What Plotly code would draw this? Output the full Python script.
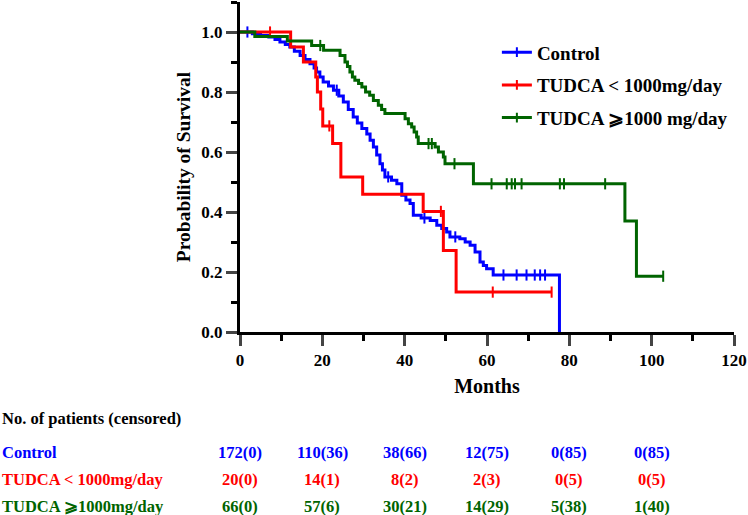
import numpy as np
import plotly.graph_objects as go

# ---------------- data ----------------
months_ticks = [0, 20, 40, 60, 80, 100, 120]

ctrl_t = [0, 3, 5, 7, 8.5, 9.7, 11, 12.1, 13.2, 14.6, 15.8, 17, 18, 18.6, 19.4, 20.2, 21.5, 22.7,
          24, 25.1, 26.3, 27.5, 28.5, 29.6, 30.8, 31.6, 32.4, 33.2, 34, 34.6, 35.2, 36.8, 38.1,
          39.3, 40.3, 41.3, 42.1, 44, 46.2, 47.8, 49, 50.2, 51, 53.4, 54.7, 55.9, 57.1, 58.3,
          59.1, 59.9, 61.5, 77.6]
ctrl_s = [1.0, 0.994, 0.988, 0.983, 0.975, 0.967, 0.958, 0.95, 0.936, 0.922, 0.908, 0.894, 0.88,
          0.867, 0.85, 0.833, 0.82, 0.806, 0.787, 0.767, 0.742, 0.717, 0.697, 0.678, 0.66, 0.639,
          0.617, 0.59, 0.561, 0.54, 0.517, 0.506, 0.494, 0.456, 0.44, 0.428, 0.389, 0.38, 0.372,
          0.356, 0.345, 0.333, 0.317, 0.311, 0.3, 0.289, 0.267, 0.233, 0.222, 0.211, 0.19, 0.0]
ctrl_cens = [1.8, 23.5, 36, 44.8, 52.3, 64, 67.2, 69.6, 71.6, 72.9, 74.1]

low_t = [0, 12.3, 15.4, 18.4, 18.8, 19.6, 20.1, 22.5, 24.5, 29.8, 44.5, 49.4, 52.5, 75.7]
low_s = [1.0, 0.95, 0.90, 0.85, 0.80, 0.743, 0.687, 0.628, 0.517, 0.459, 0.402, 0.272, 0.133, 0.133]
low_cens = [7.3, 21.7, 48.8, 61.4, 75.7]

high_t = [0, 3.6, 11.5, 17.4, 20.3, 24.3, 25.5, 26.1, 26.7, 27.3, 27.9, 28.8, 29.6, 30.5, 31.5,
          32.4, 33.6, 34.4, 35.2, 40.1, 40.9, 41.7, 42.3, 42.9, 43.3, 47.4, 48.2, 49.4, 49.8,
          56.7, 93.5, 96.3, 102.8]
high_s = [1.0, 0.985, 0.97, 0.955, 0.939, 0.922, 0.9, 0.885, 0.867, 0.85, 0.839, 0.828, 0.817,
          0.8, 0.789, 0.772, 0.756, 0.742, 0.728, 0.711, 0.694, 0.683, 0.667, 0.65, 0.628, 0.617,
          0.6, 0.583, 0.561, 0.494, 0.37, 0.186, 0.186]
high_cens = [19.5, 45.8, 46.6, 52.1, 61.1, 64.8, 66, 66.8, 68.4, 77.7, 78.7, 88.7, 102.8]

group_names = ["Control", "TUDCA < 1000mg/day", "TUDCA \u2a7e1000 mg/day"]
table_names = ["Control", "TUDCA < 1000mg/day", "TUDCA \u2a7e1000mg/day"]
at_risk = [
    ["172(0)", "110(36)", "38(66)", "12(75)", "0(85)", "0(85)"],
    ["20(0)", "14(1)", "8(2)", "2(3)", "0(5)", "0(5)"],
    ["66(0)", "57(6)", "30(21)", "14(29)", "5(38)", "1(40)"],
]
table_months = [0, 20, 40, 60, 80, 100]
colors = ["#0000FF", "#FF0000", "#006400"]

FONT = "Liberation Serif"

fig = go.Figure()

groups = [(ctrl_t, ctrl_s, ctrl_cens), (low_t, low_s, low_cens), (high_t, high_s, high_cens)]


def surv_at(t, s, c):
    t = np.asarray(t)
    s = np.asarray(s)
    idx = np.searchsorted(t, np.asarray(c), side="right") - 1
    return s[idx]


for i, (t, s, c) in enumerate(groups):
    col = colors[i]
    fig.add_trace(go.Scatter(x=t, y=s, mode="lines", line=dict(color=col, width=3, shape="hv"),
                             showlegend=False, hoverinfo="skip"))
    fig.add_trace(go.Scatter(x=c, y=surv_at(t, s, c), mode="markers",
                             marker=dict(symbol="line-ns", size=8, color=col,
                                         line=dict(color=col, width=2)),
                             showlegend=False, hoverinfo="skip"))
    fig.add_trace(go.Scatter(x=[None], y=[None], mode="lines+markers", name=group_names[i],
                             legendgroup=str(i),
                             line=dict(color=col, width=3),
                             marker=dict(symbol="line-ns", size=7, color=col,
                                         line=dict(color=col, width=2))))

TFS = 16.5
annotations = []
annotations.append(dict(text="No. of patients (censored)", xref="paper", yref="paper",
                        x=-0.486, y=-0.263, xanchor="left", yanchor="middle", showarrow=False,
                        font=dict(family=FONT, size=TFS, color="black", weight="bold")))
row_y = [-0.365, -0.448, -0.530]
for i in range(3):
    annotations.append(dict(text=table_names[i], xref="paper", yref="paper", x=-0.486, y=row_y[i],
                            xanchor="left", yanchor="middle", showarrow=False,
                            font=dict(family=FONT, size=TFS, color=colors[i], weight="bold")))
    for m, txt in zip(table_months, at_risk[i]):
        annotations.append(dict(text=txt, xref="x", yref="paper", x=m, y=row_y[i],
                                xanchor="center", yanchor="middle", showarrow=False,
                                font=dict(family=FONT, size=TFS, color=colors[i], weight="bold")))

fig.update_layout(
    width=748, height=515,
    margin=dict(l=240, r=14, t=2, b=183),
    plot_bgcolor="white", paper_bgcolor="white",
    font=dict(family=FONT, color="black", weight="bold"),
    legend=dict(x=0.52, y=0.905, xanchor="left", yanchor="top", tracegroupgap=5,
                traceorder="grouped",
                font=dict(family=FONT, size=19, color="black", weight="bold"),
                bgcolor="rgba(0,0,0,0)"),
    annotations=annotations,
    xaxis=dict(range=[0, 120], tickvals=months_ticks, ticks="outside", ticklen=11, tickwidth=3,
               showline=True, linewidth=3, linecolor="black", showgrid=False, zeroline=False,
               minor=dict(dtick=10, tick0=0, ticks="outside", ticklen=6, tickwidth=3, tickcolor="black", showgrid=False),
               tickfont=dict(family=FONT, size=17, weight="bold"),
               title=dict(text="Months", font=dict(family=FONT, size=20, weight="bold"), standoff=10)),
    yaxis=dict(range=[0, 1.1], tick0=0, dtick=0.2, tickformat=".1f", ticks="outside", ticklen=11,
               tickwidth=3, showline=True, linewidth=3, linecolor="black", showgrid=False,
               zeroline=False,
               minor=dict(dtick=0.1, tick0=0, ticks="outside", ticklen=6, tickwidth=3, tickcolor="black", showgrid=False),
               tickfont=dict(family=FONT, size=17, weight="bold"),
               title=dict(text="Probability of Survival", font=dict(family=FONT, size=19.5, weight="bold"), standoff=6)),
)

fig.write_html("out.html", post_script="document.body.style.margin='0';",
               config={"displayModeBar": False})
